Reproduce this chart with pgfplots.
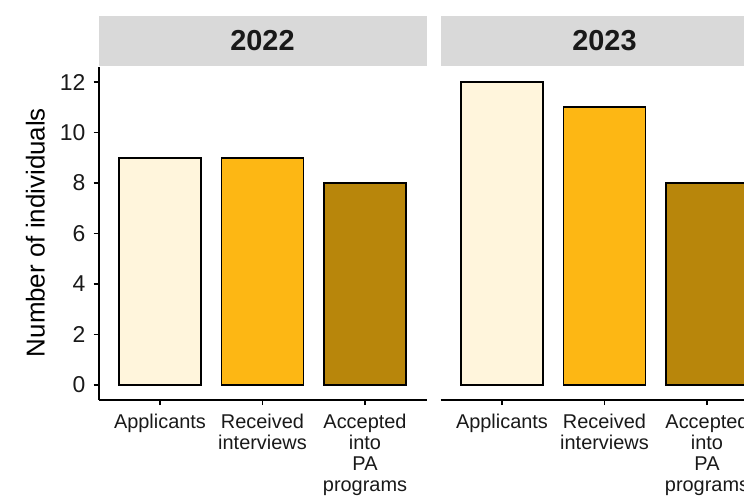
\documentclass[border=0pt]{standalone}
\usepackage{pgfplots}
\pgfplotsset{compat=1.18}
\usepackage{fontspec}
\setmainfont{Liberation Sans}

\definecolor{cream}{HTML}{FFF5DC}
\definecolor{gold}{HTML}{FDB714}
\definecolor{darkgold}{HTML}{B8860B}
\definecolor{stripgray}{HTML}{D9D9D9}

\pgfplotsset{
  facet/.style={
    scale only axis,
    height=333.3bp,
    anchor=south west,
    xmin=0.4,
    ymin=-0.6, ymax=12.6,
    axis x line*=bottom,
    axis y line*=left,
    axis line style={-, line width=2bp, black},
    tick align=outside,
    major tick length=5bp,
    tick style={line width=1.3bp, black},
    xtick={1,2,3},
    xticklabels={Applicants,{Received\\interviews},{Accepted\\into\\PA\\programs}},
    xticklabel style={align=center, inner sep=0pt,
      font=\fontsize{20}{21}\selectfont, text=black!90},
    xticklabel shift=9bp,
    ytick={0,2,...,12},
    yticklabel style={inner sep=0pt, font=\fontsize{23}{23}\selectfont, text=black!90},
    yticklabel shift=8bp,
    /pgf/number format/assume math mode=true,
  },
  cbar/.style={ybar, bar width=0.8, bar shift=0pt, draw=black, line width=1.8bp},
}

\begin{document}
\begin{tikzpicture}
\path[use as bounding box] (0,0) rectangle (744bp,503bp);
\begin{scope}
\clip (0,0) rectangle (744bp,503bp);

% strips
\fill[stripgray] (98.5bp,437bp) rectangle (426.5bp,487bp);
\fill[stripgray] (440.5bp,437bp) rectangle (744bp,487bp);
\node[font=\fontsize{29}{29}\selectfont\bfseries, text=black!90] at (262.5bp,462bp) {2022};
\node[font=\fontsize{29}{29}\selectfont\bfseries, text=black!90] at (604.5bp,462bp) {2023};

\begin{axis}[facet, at={(98.5bp,102.8bp)}, width=328bp, xmax=3.6,
  ylabel={Number of individuals},
  every axis y label/.style={at={(axis description cs:-0.163,0.503)},
    rotate=90, anchor=south, inner sep=0pt,
    font=\fontsize{26}{26}\selectfont, text=black},
]
\addplot[cbar, fill=cream] coordinates {(1,9)};
\addplot[cbar, fill=gold] coordinates {(2,9)};
\addplot[cbar, fill=darkgold] coordinates {(3,8)};
\end{axis}

\begin{axis}[facet, at={(440.5bp,102.8bp)}, width=303.5bp, xmax=3.361, hide y axis]
\addplot[cbar, fill=cream] coordinates {(1,12)};
\addplot[cbar, fill=gold] coordinates {(2,11)};
\addplot[cbar, fill=darkgold] coordinates {(3,8)};
\end{axis}
\end{scope}
\end{tikzpicture}
\end{document}
